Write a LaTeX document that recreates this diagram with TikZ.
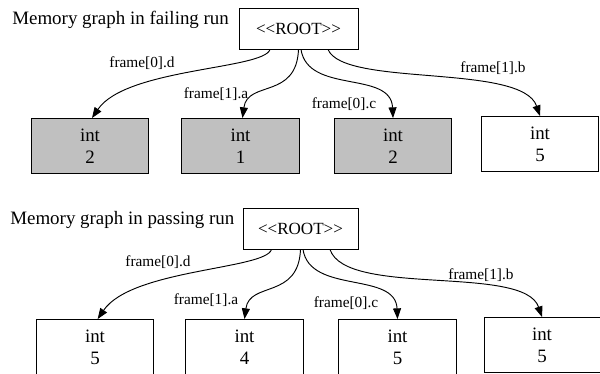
\documentclass[tikz,border=0pt]{standalone}
\usepackage{fontspec}
\setmainfont{Liberation Serif}
\usetikzlibrary{calc,arrows.meta}
\definecolor{failgray}{HTML}{C0C0C0}

\begin{document}
\begin{tikzpicture}[x=0.75pt,y=-0.75pt,
    rootbox/.style={draw,line width=0.7pt,minimum width=88pt,minimum height=30.75pt,
      inner sep=0pt,font=\fontsize{12.8}{15}\selectfont},
    valbox/.style={draw,line width=0.7pt,minimum width=88pt,minimum height=41.25pt,
      inner sep=0pt,align=center,font=\fontsize{14.2}{16.5}\selectfont},
    failbox/.style={valbox,fill=failgray},
    lbl/.style={inner sep=0pt,font=\fontsize{11.5}{13}\selectfont},
    title/.style={inner sep=0pt,anchor=base west,font=\fontsize{14.2}{16}\selectfont},
    edge/.style={line width=0.7pt,-{Triangle[length=8pt,width=6pt]}}]
  \useasboundingbox (0,0) rectangle (600,374);

  % failing run
  \node[title] (t1) at (12,25) {Memory graph in failing run};
  \node[rootbox,minimum width=89.25pt] (froot) at (298.5,28.5) {<{}<ROOT>{}>};
  \node[failbox] (fd) at (90,146) {int\\2};
  \node[failbox] (fa) at (240.5,146) {int\\1};
  \node[failbox] (fc) at (393,146) {int\\2};
  \node[valbox] (fb) at (540,144) {int\\5};
  \draw[edge] ($(froot.south)+(-28.5,0)$) .. controls +(-6,20) and +(34,-50) .. ([xshift=1.5pt]fd.north);
  \draw[edge] (froot.south) .. controls +(-2,50) and +(5,-38) .. ([xshift=1.5pt]fa.north);
  \draw[edge] ($(froot.south)+(2.5,0)$) .. controls +(7,45) and +(-2,-48) .. (fc.north);
  \draw[edge] ($(froot.south)+(29.5,0)$) .. controls +(16,38) and +(-18,-53) .. (fb.north);
  \node[lbl] (fld) at (142,63) {frame[0].d};
  \node[lbl] (fla) at (216,94) {frame[1].a};
  \node[lbl] (flc) at (344,104) {frame[0].c};
  \node[lbl] (flb) at (493,68) {frame[1].b};

  % passing run
  \node[title] (t2) at (10,224) {Memory graph in passing run};
  \node[rootbox,minimum width=86.25pt] (proot) at (300.5,228.5) {<{}<ROOT>{}>};
  \node[valbox] (pd) at (95,347) {int\\5};
  \node[valbox] (pa) at (244.5,347) {int\\4};
  \node[valbox] (pc) at (397.5,347) {int\\5};
  \node[valbox,minimum width=87pt] (pb) at (542,345) {int\\5};
  \draw[edge] ($(proot.south)+(-29,0)$) .. controls +(-6,20) and +(34,-50) .. ([xshift=2pt]pd.north);
  \draw[edge] (proot.south) .. controls +(-2,50) and +(5,-38) .. (pa.north);
  \draw[edge] ($(proot.south)+(2.5,0)$) .. controls +(7,45) and +(-2,-48) .. (pc.north);
  \draw[edge] ($(proot.south)+(29.5,0)$) .. controls +(16,48) and +(-18,-53) .. (pb.north);
  \node[lbl] (pld) at (158,262) {frame[0].d};
  \node[lbl] (pla) at (206,300) {frame[1].a};
  \node[lbl] (plc) at (346,303) {frame[0].c};
  \node[lbl] (plb) at (481,275) {frame[1].b};
\end{tikzpicture}
\end{document}
